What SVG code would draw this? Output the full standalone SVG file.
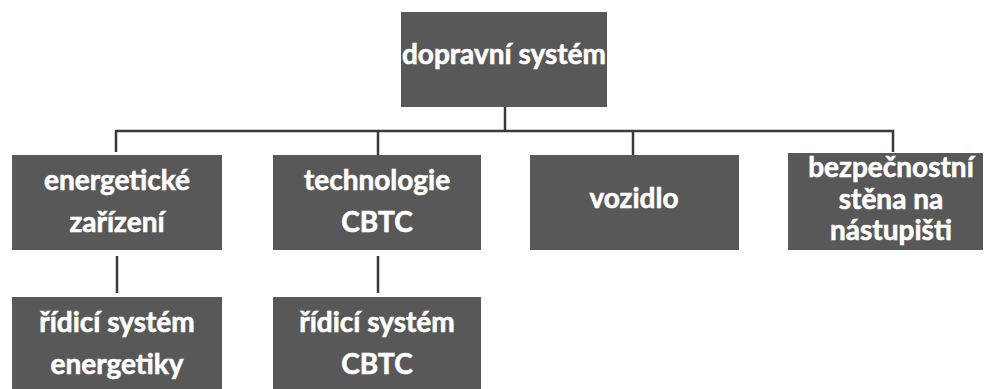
<svg xmlns="http://www.w3.org/2000/svg" width="985" height="389" viewBox="0 0 985 389">
<style>
.box{fill:#585858;}
.t{font-family:Lato,"Liberation Sans",sans-serif;font-weight:bold;font-size:28px;fill:#ffffff;stroke:#ffffff;stroke-width:0.6;text-anchor:middle;}
.c{stroke:#3a3a3a;stroke-width:2.5;fill:none;}
</style>
<rect width="985" height="389" fill="#ffffff"/>
<g id="connectors">
<path class="c" d="M505 107V131"/>
<path class="c" d="M116 152V131H893V152"/>
<path class="c" d="M378 131V155"/>
<path class="c" d="M633 131V155"/>
<path class="c" d="M117 256V293"/>
<path class="c" d="M378 256V293"/>
</g>
<g id="n0"><rect class="box" x="401" y="12" width="206" height="95"/><text class="t" x="504" y="64">dopravní systém</text></g>
<g id="n1"><rect class="box" x="12" y="155" width="210" height="95"/><text class="t" x="117" y="190">energetické</text><text class="t" x="117" y="232">zařízení</text></g>
<g id="n2"><rect class="box" x="273" y="155" width="208" height="95"/><text class="t" x="377" y="190">technologie</text><text class="t" x="377" y="232">CBTC</text></g>
<g id="n3"><rect class="box" x="530" y="155" width="209" height="95"/><text class="t" x="634" y="208">vozidlo</text></g>
<g id="n4"><rect class="box" x="788" y="153" width="195" height="97"/><text class="t" x="891" y="177">bezpečnostní</text><text class="t" x="891" y="209">stěna na</text><text class="t" x="891" y="240">nástupišti</text></g>
<g id="n5"><rect class="box" x="12" y="297" width="210" height="92"/><text class="t" x="117" y="332">řídicí systém</text><text class="t" x="117" y="374">energetiky</text></g>
<g id="n6"><rect class="box" x="273" y="297" width="208" height="92"/><text class="t" x="377" y="332">řídicí systém</text><text class="t" x="377" y="374">CBTC</text></g>
</svg>
